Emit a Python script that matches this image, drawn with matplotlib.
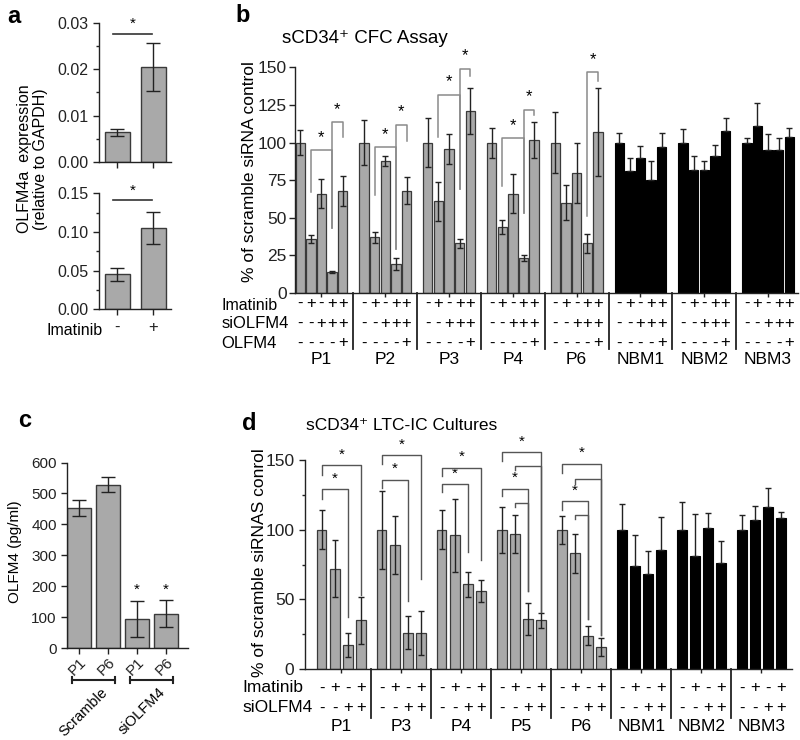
import matplotlib
matplotlib.use("Agg")
import matplotlib.pyplot as plt
import matplotlib.ticker as mticker
import numpy as np

plt.rcParams['font.family'] = ['Liberation Sans', 'DejaVu Sans']

# ─── data ────────────────────────────────────────────────────────────────────
# panel a : OLFM4a expression (two experiments)
a_labels = ['-', '+']
a_top_mean = [0.0064, 0.0205]
a_top_err = [0.0008, 0.0051]
a_top_sig = 0.0277
a_bot_mean = [0.045, 0.105]
a_bot_err = [0.0086, 0.021]
a_bot_sig = 0.1405

# panel b : CFC assay
b_groups = ['P1', 'P2', 'P3', 'P4', 'P6', 'NBM1', 'NBM2', 'NBM3']
b_means = [
    [100, 36, 66, 14, 68],
    [100, 37, 88, 19, 68],
    [100, 61, 96, 33, 121],
    [100, 44, 66, 23, 102],
    [100, 60, 80, 33, 107],
    [100, 81, 90, 75, 97],
    [100, 82, 82, 91, 108],
    [100, 111, 95, 95, 104],
]
b_err = [
    [8.5, 2.5, 9.5, 0.5, 10],
    [15, 3.5, 3.3, 4, 9],
    [16, 13, 10, 3, 15],
    [10, 4.5, 13, 2, 12],
    [20, 11.5, 20, 6.5, 29],
    [6.5, 8.6, 8, 12.6, 9.5],
    [9, 9, 6, 7.5, 8.4],
    [3, 15, 10.6, 8, 6],
]
b_imatinib = ['-', '+', '-', '+', '+']
b_siolfm4 = ['-', '-', '+', '+', '+']
b_olfm4 = ['-', '-', '-', '-', '+']
# (group, bar_from, bar_to, top, left leg end, right leg end, star)
b_sig = [
    (0, 1, 3, 95, 67, 43, True), (0, 3, 4, 113.6, 43, 103.7, True),
    (1, 1, 3, 97, 65, 29, True), (1, 3, 4, 112, 29, 101, True),
    (2, 1, 3, 131.7, 104, 69, True), (2, 3, 4, 149, 69, 144.5, True),
    (3, 1, 3, 103, 71, 53, True), (3, 3, 4, 121.8, 53, 118, True),
    (4, 3, 4, 146.7, 51, 141, True),
]

# panel c : OLFM4 ELISA
c_labels = ['P1', 'P6', 'P1', 'P6']
c_means = [452, 528, 94, 111]
c_err = [26, 24, 59, 44]
c_star = [False, False, True, True]
c_sets = ['Scramble', 'siOLFM4']

# panel d : LTC-IC cultures
d_groups = ['P1', 'P3', 'P4', 'P5', 'P6', 'NBM1', 'NBM2', 'NBM3']
d_means = [
    [100, 72, 17, 35],
    [100, 89, 26, 26],
    [100, 96, 61, 56],
    [100, 97, 36, 35],
    [100, 83, 24, 15.5],
    [100, 74, 68, 85.5],
    [100, 81, 101, 76],
    [100, 107, 116.5, 108.7],
]
d_err = [
    [14, 20.5, 8.6, 17],
    [28, 20.6, 12, 16],
    [14, 26, 9, 8],
    [16.7, 14, 11.6, 5.4],
    [10, 14.3, 7, 6.5],
    [18.5, 22, 16.7, 23.4],
    [19.7, 30.5, 11, 16],
    [11, 10, 13.6, 4.3],
]
d_imatinib = ['-', '+', '-', '+']
d_siolfm4 = ['-', '-', '+', '+']
d_sig = [
    (0, 0, 2, 129, 122.5, 37, True), (0, 0, 3, 146.4, 139.7, 53, True),
    (1, 0, 2, 136, 130, 49, True), (1, 0, 3, 153.6, 147, 64.5, True),
    (2, 0, 2, 132.8, 127, 84, True), (2, 0, 3, 144.7, 139, 78, True),
    (3, 0, 3, 156, 149.5, 41, True), (3, 1, 3, 145.7, 143, 41, False),
    (3, 0, 2, 129.7, 124, 56, True), (3, 1, 2, 119.4, 116.5, 56, False),
    (4, 0, 3, 147.6, 141, 24.6, True), (4, 1, 3, 136.9, 133, 24.6, False),
    (4, 0, 2, 120.6, 114.6, 36, True), (4, 1, 2, 111, 108, 36, False),
]

GRAY = '#a9a9a9'
EDGE = '#3a3a3a'
ECOL = '#222222'


def style(ax, fs=11):
    for s in ('top', 'right'):
        ax.spines[s].set_visible(False)
    for s in ('left', 'bottom'):
        ax.spines[s].set_linewidth(1.0)
        ax.spines[s].set_color('#222222')
    ax.tick_params(axis='both', which='major', length=4, width=1, labelsize=fs, colors='#222222')
    ax.tick_params(axis='both', which='minor', length=2.5, width=1, colors='#222222')


def bracket(ax, x1, x2, top, lb, rb, color, lw=1.0):
    ax.plot([x1, x1, x2, x2], [lb, top, top, rb], color=color, lw=lw, clip_on=False, zorder=3)


fig = plt.figure(figsize=(8, 7.4), dpi=100)

# ─── panel a ─────────────────────────────────────────────────────────────────
ax_a1 = fig.add_axes([0.124, 0.781, 0.09, 0.188])
ax_a2 = fig.add_axes([0.124, 0.582, 0.09, 0.157])
for ax, m, e, sig, top, step in ((ax_a1, a_top_mean, a_top_err, a_top_sig, 0.03, 0.01),
                                 (ax_a2, a_bot_mean, a_bot_err, a_bot_sig, 0.15, 0.05)):
    x = np.arange(2)
    ax.bar(x, m, 0.7, color=GRAY, edgecolor=EDGE, lw=1)
    ax.errorbar(x, m, yerr=e, fmt='none', ecolor=ECOL, elinewidth=1, capsize=5, capthick=1)
    ax.plot([-0.12, 0.97], [sig, sig], color='#333', lw=1.2, clip_on=False)
    ax.text(0.42, sig + top * 0.02, '*', ha='center', va='bottom', fontsize=11)
    ax.set_xlim(-0.5, 1.5)
    ax.set_ylim(0, top)
    ax.set_yticks(np.arange(0, top + step / 2, step))
    ax.yaxis.set_minor_locator(mticker.MultipleLocator(step / 2))
    ax.yaxis.set_major_formatter(mticker.FormatStrFormatter('%.2f'))
    ax.set_xticks(x)
    style(ax, 11.5)
ax_a1.set_xticklabels([])
ax_a2.set_xticklabels(a_labels, fontsize=12)
fig.text(0.128, 0.554, 'Imatinib', ha='right', va='center', fontsize=11.5)
fig.text(0.041, 0.785, 'OLFM4a  expression\n(relative to GAPDH)', rotation=90,
         ha='center', va='center', fontsize=11.5, multialignment='center', linespacing=1.05)

# ─── panel b ─────────────────────────────────────────────────────────────────
ax_b = fig.add_axes([0.369, 0.604, 0.629, 0.305])
GS_B = 6
for g, name in enumerate(b_groups):
    xs = g * GS_B + np.arange(5)
    if name.startswith('NBM'):
        ax_b.bar(xs, b_means[g], 0.88, color='black', edgecolor='black', lw=0.8)
        ax_b.errorbar(xs, b_means[g], yerr=[np.zeros(5), b_err[g]], fmt='none',
                      ecolor=ECOL, elinewidth=1, capsize=2.5, capthick=1)
    else:
        ax_b.bar(xs, b_means[g], 0.88, color=GRAY, edgecolor=EDGE, lw=0.9)
        ax_b.errorbar(xs, b_means[g], yerr=b_err[g], fmt='none',
                      ecolor=ECOL, elinewidth=1, capsize=2.5, capthick=1)
    trans = ax_b.get_xaxis_transform()
    for i in range(5):
        for row, yy in ((b_imatinib, -0.046), (b_siolfm4, -0.133), (b_olfm4, -0.221)):
            ax_b.text(xs[i], yy, row[i], transform=trans, ha='center', va='center', fontsize=12)
    ax_b.text(xs[2], -0.296, name, transform=trans, ha='center', va='center', fontsize=12.5)
    if g < len(b_groups) - 1:
        sx = g * GS_B + 5
        ax_b.plot([sx, sx], [0, -0.25], transform=trans, color='#222', lw=1.3, clip_on=False)

for g, i, j, top, lb, rb, star in b_sig:
    x1, x2 = g * GS_B + i, g * GS_B + j
    bracket(ax_b, x1, x2, top, lb, rb, '#8a8a8a', 1.1)
    if star:
        ax_b.text((x1 + x2) / 2, top + 3.5, '*', ha='center', va='bottom', fontsize=12)

ax_b.set_xlim(-0.47, 46.85)
ax_b.set_ylim(0, 150)
ax_b.set_yticks(np.arange(0, 151, 25))
ax_b.set_xticks([g * GS_B + 2 for g in range(len(b_groups))])
ax_b.set_xticklabels([])
style(ax_b, 12.5)
ax_b.tick_params(axis='x', length=3)
ax_b.tick_params(axis='y', pad=2)
fig.text(0.277, 1 - 305 / 740, 'Imatinib', ha='left', va='center', fontsize=11.5)
fig.text(0.277, 1 - 324 / 740, 'siOLFM4', ha='left', va='center', fontsize=12)
fig.text(0.277, 1 - 343 / 740, 'OLFM4', ha='left', va='center', fontsize=12)
fig.text(0.3125, 0.768, '% of scramble siRNA control', rotation=90, ha='center', va='center', fontsize=12.5)
fig.text(0.456, 0.942, 'sCD34⁺ CFC Assay', ha='center', va='baseline', fontsize=13.5)

# ─── panel c ─────────────────────────────────────────────────────────────────
ax_c = fig.add_axes([0.084, 0.124, 0.151, 0.251])
xc = np.arange(4)
ax_c.bar(xc, c_means, 0.8, color=GRAY, edgecolor=EDGE, lw=1)
ax_c.errorbar(xc, c_means, yerr=c_err, fmt='none', ecolor=ECOL, elinewidth=1, capsize=5, capthick=1)
for k, s in enumerate(c_star):
    if s:
        ax_c.text(xc[k], c_means[k] + c_err[k] + 12, '*', ha='center', va='bottom', fontsize=11)
ax_c.set_xlim(-0.41, 3.76)
ax_c.set_ylim(0, 600)
ax_c.set_yticks(np.arange(0, 601, 100))
ax_c.set_xticks(xc)
ax_c.set_xticklabels(c_labels, rotation=45, ha='right', rotation_mode='anchor', fontsize=11)
style(ax_c, 11)
ax_c.tick_params(axis='x', pad=1)
ctr = ax_c.get_xaxis_transform()
for k, name in enumerate(c_sets):
    x1, x2 = 2 * k - 0.24, 2 * k + 1.24
    ax_c.plot([x1, x2], [-0.172, -0.172], transform=ctr, color='#222', lw=1.5, clip_on=False)
    for xe in (x1, x2):
        ax_c.plot([xe, xe], [-0.155, -0.189], transform=ctr, color='#222', lw=1.5, clip_on=False)
    ax_c.text(2 * k + 0.72, -0.2, name, transform=ctr, rotation=45, ha='right', va='top',
              rotation_mode='anchor', fontsize=10.5)
fig.text(0.019, 0.254, 'OLFM4 (pg/ml)', rotation=90, ha='center', va='center', fontsize=11)

# ─── panel d ─────────────────────────────────────────────────────────────────
ax_d = fig.add_axes([0.381, 0.096, 0.609, 0.282])
GS_D = 4.6
for g, name in enumerate(d_groups):
    xs = g * GS_D + np.arange(4)
    if name.startswith('NBM'):
        ax_d.bar(xs, d_means[g], 0.72, color='black', edgecolor='black', lw=0.8)
        ax_d.errorbar(xs, d_means[g], yerr=[np.zeros(4), d_err[g]], fmt='none',
                      ecolor=ECOL, elinewidth=1, capsize=2.5, capthick=1)
    else:
        ax_d.bar(xs, d_means[g], 0.72, color=GRAY, edgecolor=EDGE, lw=0.9)
        ax_d.errorbar(xs, d_means[g], yerr=d_err[g], fmt='none',
                      ecolor=ECOL, elinewidth=1, capsize=2.5, capthick=1)
    trans = ax_d.get_xaxis_transform()
    for i in range(4):
        for row, yy in ((d_imatinib, -0.091), (d_siolfm4, -0.187)):
            ax_d.text(xs[i], yy, row[i], transform=trans, ha='center', va='center', fontsize=12)
    ax_d.text(xs[0] + 1.5, -0.278, name, transform=trans, ha='center', va='center', fontsize=12.5)
    if g < len(d_groups) - 1:
        sx = g * GS_D + 3.8
        ax_d.plot([sx, sx], [0, -0.234], transform=trans, color='#222', lw=1.3, clip_on=False)

for g, i, j, top, lb, rb, star in d_sig:
    x1, x2 = g * GS_D + i, g * GS_D + j
    bracket(ax_d, x1, x2, top, lb, rb, '#555555', 1.0)
    if star:
        ax_d.text((x1 + x2) / 2, top + 2.5, '*', ha='center', va='bottom', fontsize=11)

ax_d.set_xlim(-1.3, 36.04)
ax_d.set_ylim(0, 150)
ax_d.set_yticks([0, 50, 100, 150])
ax_d.set_yticks([25, 75, 125], minor=True)
ax_d.set_xticks([g * GS_D + 1.5 for g in range(len(d_groups))])
ax_d.set_xticklabels([])
style(ax_d, 12.5)
ax_d.tick_params(axis='x', length=3)
fig.text(0.3025, 1 - 688 / 740, 'Imatinib', ha='left', va='center', fontsize=12.5)
fig.text(0.3025, 1 - 708 / 740, 'siOLFM4', ha='left', va='center', fontsize=12.5)
fig.text(0.325, 0.24, '% of scramble siRNAS conrol', rotation=90, ha='center', va='center', fontsize=12.5)
fig.text(0.5025, 0.419, 'sCD34⁺ LTC-IC Cultures', ha='center', va='baseline', fontsize=12.5)

# panel letters
for lx, ly, lt in ((0.009, 0.969, 'a'), (0.294, 0.970, 'b'), (0.0225, 0.423, 'c'), (0.3025, 0.419, 'd')):
    fig.text(lx, ly, lt, fontsize=17, fontweight='bold', va='baseline', ha='left')

fig.savefig('out.png', dpi=100)
